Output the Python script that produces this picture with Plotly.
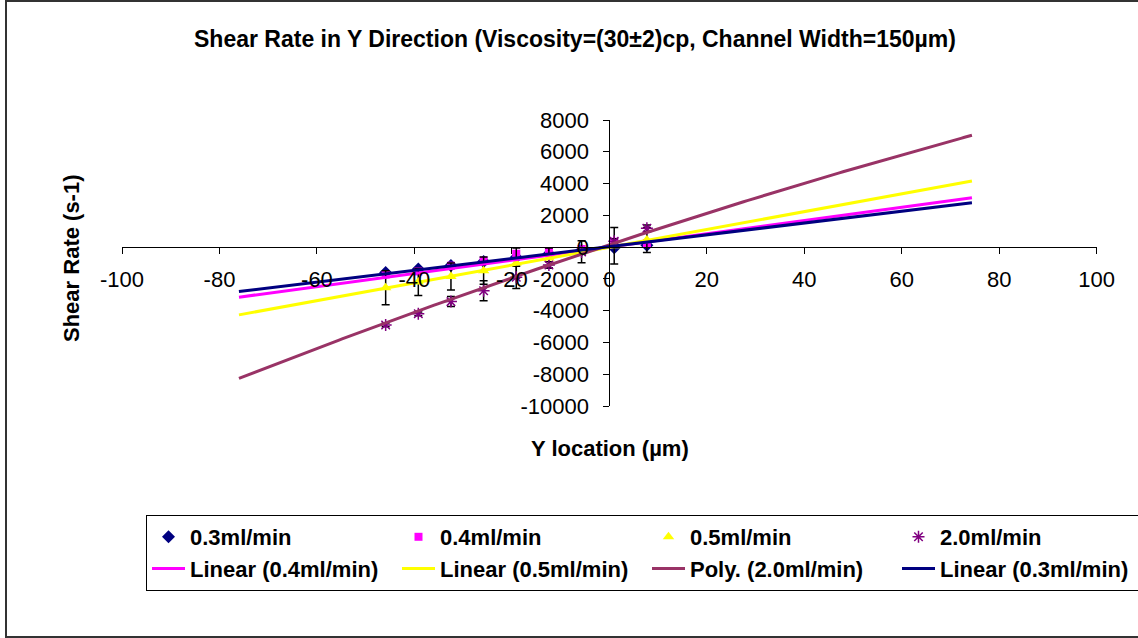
import numpy as np
import plotly.graph_objects as go

# Measurement positions across the channel (µm)
y_location = [-45.9, -39.2, -32.5, -25.8, -19.1, -12.4, -5.7, 1.0, 7.7]

# Measured shear rate (1/s) for each flow rate
shear_03 = [-1600, -1380, -1160, -900, -640, -420, -190, -40, 120]
shear_04 = [-1720, -1530, -1170, -850, -420, -300, -120, 330, 260]
shear_05 = [-2550, -2200, -1850, -1480, -1000, -680, -290, 80, 450]
shear_20 = [-4900, -4200, -3430, -2750, -1900, -1120, -300, 370, 1190]

# Error bar half-lengths
err_05 = [1070, 850, 850, 850, 940, 630, 690, 1150, 790]
err_20 = [120, 120, 315, 630, 700, 200, 150, 150, 200]

# Trendline coefficients (highest power first) and span
fit_03 = [37.2, 30]
fit_04 = [41.6, 10]
fit_05 = [56.0, -10]
fit_20 = [-0.12, 101.5, 150]
fit_span = [-76.0, 74.4]

x_ticks = list(range(-100, 101, 20))
y_ticks = list(range(-10000, 8001, 2000))

FONT = "Liberation Sans, Arial, sans-serif"

W, H = 1138, 638
T, B = 120, 232
PH = H - T - B
AX_LEFT, AX_RIGHT = 122.0, 1096.7   # pixel extent of the x axis


def px_x(px):
    return px / W


def px_y(py):
    return (H - B - py) / PH


fig = go.Figure()

fig.add_trace(go.Scatter(
    x=y_location, y=shear_03, mode="markers", name="0.3ml/min",
    marker=dict(symbol="diamond", size=10, color="#000080"),
))
fig.add_trace(go.Scatter(
    x=y_location, y=shear_04, mode="markers", name="0.4ml/min",
    marker=dict(symbol="square", size=8, color="#FF00FF"),
))
fig.add_trace(go.Scatter(
    x=y_location, y=shear_05, mode="markers", name="0.5ml/min",
    marker=dict(symbol="triangle-up", size=10, color="#FFFF00"),
    error_y=dict(type="data", array=err_05, color="black", thickness=1.5, width=4),
))
fig.add_trace(go.Scatter(
    x=y_location, y=shear_20, mode="markers", name="2.0ml/min",
    marker=dict(symbol="asterisk-open", size=10, color="#800080",
                line=dict(color="#800080", width=1.5)),
    error_y=dict(type="data", array=err_20, color="black", thickness=1.5, width=4),
))

xs = np.linspace(fit_span[0], fit_span[1], 200)
trend_lines = [
    ("Linear (0.4ml/min)", fit_04, "#FF00FF"),
    ("Linear (0.5ml/min)", fit_05, "#FFFF00"),
    ("Poly. (2.0ml/min)", fit_20, "#993366"),
    ("Linear (0.3ml/min)", fit_03, "#000080"),
]
for name, coeffs, color in trend_lines:
    fig.add_trace(go.Scatter(
        x=xs, y=np.polyval(coeffs, xs), mode="lines", name=name,
        line=dict(color=color, width=3),
    ))

axis_common = dict(
    showgrid=False, zeroline=False, showline=True, linecolor="black", linewidth=1,
    ticks="outside", ticklen=6, tickcolor="black", tickwidth=1,
    tickfont=dict(family=FONT, size=22, color="black"),
)

x_zero_px = AX_LEFT + (AX_RIGHT - AX_LEFT) * 0.5

fig.update_layout(
    width=W, height=H,
    margin=dict(l=0, r=0, t=T, b=B, autoexpand=False),
    paper_bgcolor="white", plot_bgcolor="rgba(0,0,0,0)",
    font=dict(family=FONT, color="black"),
    title=dict(
        text="Shear Rate in Y Direction (Viscosity=(30±2)cp, Channel Width=150µm)",
        font=dict(family=FONT, size=23, color="black", weight="bold"),
        x=575 / W, xref="container", xanchor="center",
        y=1 - 39 / H, yref="container", yanchor="middle",
    ),
    xaxis=dict(
        domain=[AX_LEFT / W, AX_RIGHT / W],
        range=[-100, 100], tickmode="array", tickvals=x_ticks,
        ticktext=[str(v) for v in x_ticks],
        anchor="free", position=10000 / 18000, ticklabelstandoff=6,
        **axis_common,
    ),
    yaxis=dict(
        range=[-10000, 8000], tickmode="array", tickvals=y_ticks,
        ticktext=[str(v) for v in y_ticks],
        anchor="free", position=x_zero_px / W, ticklabelstandoff=10,
        **axis_common,
    ),
    showlegend=True,
    legend=dict(
        orientation="h", x=px_x(146), y=px_y(515), xanchor="left", yanchor="top",
        entrywidth=202, entrywidthmode="pixels", itemwidth=33,
        bordercolor="black", borderwidth=1, bgcolor="white",
        font=dict(family=FONT, size=22, color="black", weight="bold"),
        traceorder="normal",
    ),
    annotations=[
        dict(text="Y location (µm)", x=px_x(610), y=px_y(448), xref="paper", yref="paper",
             showarrow=False, xanchor="center", yanchor="middle",
             font=dict(family=FONT, size=22, color="black", weight="bold")),
        dict(text="Shear Rate (s-1)", x=px_x(71), y=px_y(258), xref="paper", yref="paper",
             showarrow=False, xanchor="center", yanchor="middle", textangle=-90,
             font=dict(family=FONT, size=22, color="black", weight="bold")),
    ],
    shapes=[
        dict(type="rect", xref="paper", yref="paper",
             x0=px_x(6), x1=px_x(1145), y0=px_y(637), y1=px_y(1),
             line=dict(color="#333333", width=2), fillcolor="rgba(0,0,0,0)", layer="below"),
    ],
)

fig.write_html("out.html")
